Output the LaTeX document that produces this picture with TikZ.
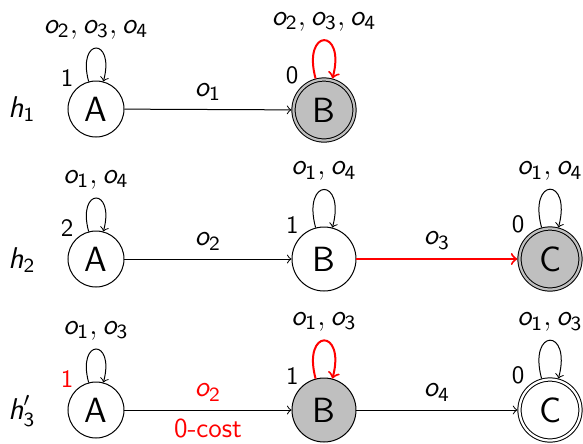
\documentclass[tikz,border=0pt]{standalone}
\usepackage{amsmath}
\newcommand{\ob}[1]{\text{\slshape o}_{\text{#1}}}
\newcommand{\hh}{\text{\slshape h}}
\tikzset{
  lbl/.style={font=\fontsize{11.5}{13}\selectfont\sffamily},
  hlbl/.style={font=\fontsize{12}{14}\selectfont\sffamily, inner sep=0pt},
  cost/.style={font=\fontsize{11}{13}\selectfont\sffamily},
  st/.style={circle, draw, inner sep=0pt, minimum size=22.4pt, font=\fontsize{14}{16}\selectfont\sffamily},
  stb/.style={st, minimum size=25.6pt},
  acc/.style={st, minimum size=24.4pt, double, double distance=0.9pt, outer sep=0.85pt},
  gfill/.style={fill=gray!50},
  num/.style={font=\fontsize{10}{11}\selectfont\sffamily, inner sep=0.8pt},
  redge/.style={red, line width=0.8pt},
}
\begin{document}
\begin{tikzpicture}[x=0.4pt, y=-0.4pt]
\useasboundingbox (0,0) rectangle (583,443);
% row 1
\node[hlbl, anchor=base west] (h1) at (8,117) {$\hh_{\text{1}}$};
\node[st, label={[num]135:1}] (A1) at (96,109) {A};
\node[acc, gfill, double=gray!50, label={[num]135:0}] (B1) at (324,110) {B};
\draw[->] (A1) -- node[lbl, above] {$\ob1$} (B1);
\draw[->] (A1) to[loop above] node[lbl, above] {$\ob2, \ob3, \ob4$} (A1);
\draw[->, redge] (B1) to[loop above] node[lbl, above, text=black] {$\ob2, \ob3, \ob4$} (B1);
% row 2
\node[hlbl, anchor=base west] (h2) at (8,268) {$\hh_{\text{2}}$};
\node[st, label={[num]135:2}] (A2) at (96,259) {A};
\node[stb, label={[num]135:1}] (B2) at (324,259) {B};
\node[acc, gfill, double=gray!50, label={[num]135:0}] (C2) at (550,259) {C};
\draw[->] (A2) -- node[lbl, above] {$\ob2$} (B2);
\draw[->, redge] (B2) -- node[lbl, above, text=black] {$\ob3$} (C2);
\draw[->] (A2) to[loop above] node[lbl, above] {$\ob1, \ob4$} (A2);
\draw[->] (B2) to[loop above] node[lbl, above] {$\ob1, \ob4$} (B2);
\draw[->] (C2) to[loop above] node[lbl, above] {$\ob1, \ob4$} (C2);
% row 3
\node[hlbl, anchor=base west] (h3) at (8,419) {$\hh'_{\text{3}}$};
\node[st, label={[num, text=red]135:1}] (A3) at (96,410) {A};
\node[stb, gfill, label={[num]135:1}] (B3) at (324,410) {B};
\node[acc, label={[num]135:0}] (C3) at (550,410) {C};
\draw[->] (A3) -- node[lbl, above, text=red] {$\ob2$} node[cost, below, text=red] {0-cost} (B3);
\draw[->] (B3) -- node[lbl, above] {$\ob4$} (C3);
\draw[->] (A3) to[loop above] node[lbl, above] {$\ob1, \ob3$} (A3);
\draw[->, redge] (B3) to[loop above] node[lbl, above, text=black] {$\ob1, \ob3$} (B3);
\draw[->] (C3) to[loop above] node[lbl, above] {$\ob1, \ob3$} (C3);
\end{tikzpicture}
\end{document}
